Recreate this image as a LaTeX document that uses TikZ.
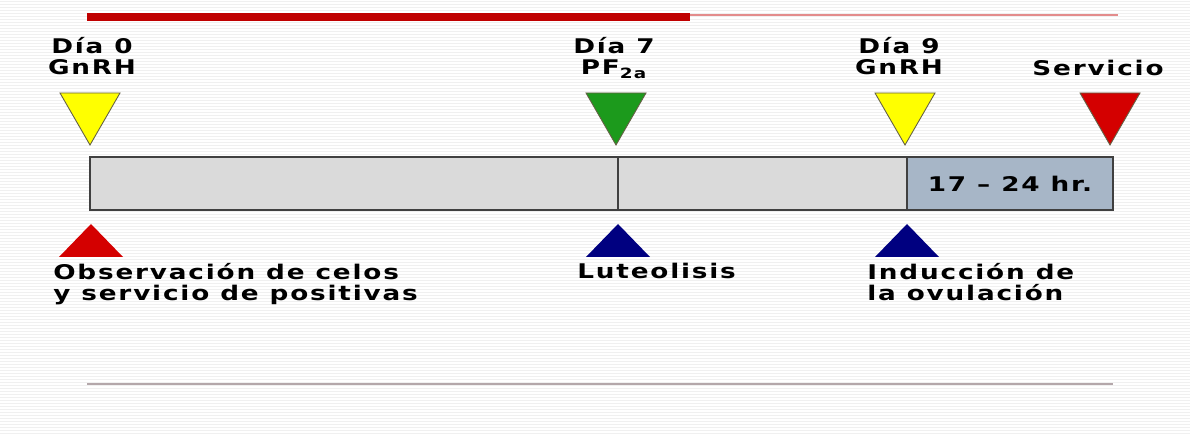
\documentclass[tikz,border=0pt]{standalone}
\usepackage{fontspec}
\newfontfamily\labelfont[FakeStretch=1.3, LetterSpace=9]{DejaVu Sans Bold}
\usepackage{xcolor}
\definecolor{markyellow}{HTML}{FFFF00}
\definecolor{markgreen}{HTML}{1C9A1C}
\definecolor{markred}{HTML}{D40000}
\definecolor{marknavy}{HTML}{000080}
\definecolor{barfill}{HTML}{DADADA}
\definecolor{hourfill}{HTML}{A7B6C7}
\definecolor{topred}{HTML}{C00000}
\definecolor{footgray}{HTML}{B4A7AA}
\tikzset{
    stripe/.style = {draw=black!6, line width=0.35pt},
    label-text/.style = {font=\fontsize{11.5}{12.2}\labelfont, inner sep=0pt},
    down-mark/.style = {draw=black!70!yellow, line width=0.5pt},
    up-mark/.style = {draw=none},
    time-bar/.style = {draw=black!75, line width=0.8pt},
}

\begin{document}
\begin{tikzpicture}[x=0.02cm, y=-0.02cm]
\useasboundingbox (0,0) rectangle (1190,435);
\fill[white] (0,0) rectangle (1190,435);
% background stripes
\foreach \y in {1,4,...,435}
    \draw[stripe] (0,\y) -- (1190,\y);

% header rules
\coordinate (hdl) at (87,17.5);
\coordinate (hdm) at (690,17.5);
\coordinate (hdr) at (1118,15);
\fill[topred] (87,13.5) rectangle (690,21.5);
\draw[topred!45, line width=0.6pt] (hdm |- hdr) -- (hdr);

% time bar
\coordinate (bar-nw) at (90,157);
\coordinate (bar-se) at (1113,210);
\coordinate (cut) at (618,157);
\coordinate (hours) at (907,157);
\fill[barfill] (bar-nw) rectangle (bar-se);
\fill[hourfill] (hours) rectangle (bar-se);
\draw[time-bar] (bar-nw) rectangle (bar-se);
\draw[time-bar] (cut) -- (cut |- bar-se);
\draw[time-bar] (hours) -- (hours |- bar-se);
\node[label-text] (hrs) at (1010,184) {17 – 24 hr.};

% marks above the bar
\foreach \x/\c in {90/markyellow, 616/markgreen, 905/markyellow, 1110/markred}
    \filldraw[down-mark, fill=\c] (\x-30,93) -- (\x+30,93) -- (\x,145) -- cycle;

\node[label-text, align=center, anchor=north] (dia0) at (92,37) {Día 0\\GnRH};
\node[label-text, align=center, anchor=north] (dia7) at (614,37) {Día 7\\PF\textsubscript{2a}};
\node[label-text, align=center, anchor=north] (dia9) at (899,37) {Día 9\\GnRH};
\node[label-text, anchor=north] (serv) at (1098,60) {Servicio};

% marks below the bar
\foreach \x/\c in {91/markred, 618/marknavy, 907/marknavy}
    \fill[up-mark, fill=\c] (\x,224) -- (\x+32,257) -- (\x-32,257) -- cycle;

\node[label-text, align=left, anchor=north west] (celos) at (53,263) {Observación de celos\\y servicio de positivas};
\node[label-text, anchor=north west] (luteo) at (577,263) {Luteolisis};
\node[label-text, align=left, anchor=north west] (ovul) at (867,263) {Inducción de\\la ovulación};

% footer rule
\coordinate (ftl) at (87,384);
\coordinate (ftr) at (1113,384);
\draw[footgray, line width=0.8pt] (ftl) -- (ftr);
\end{tikzpicture}
\end{document}
